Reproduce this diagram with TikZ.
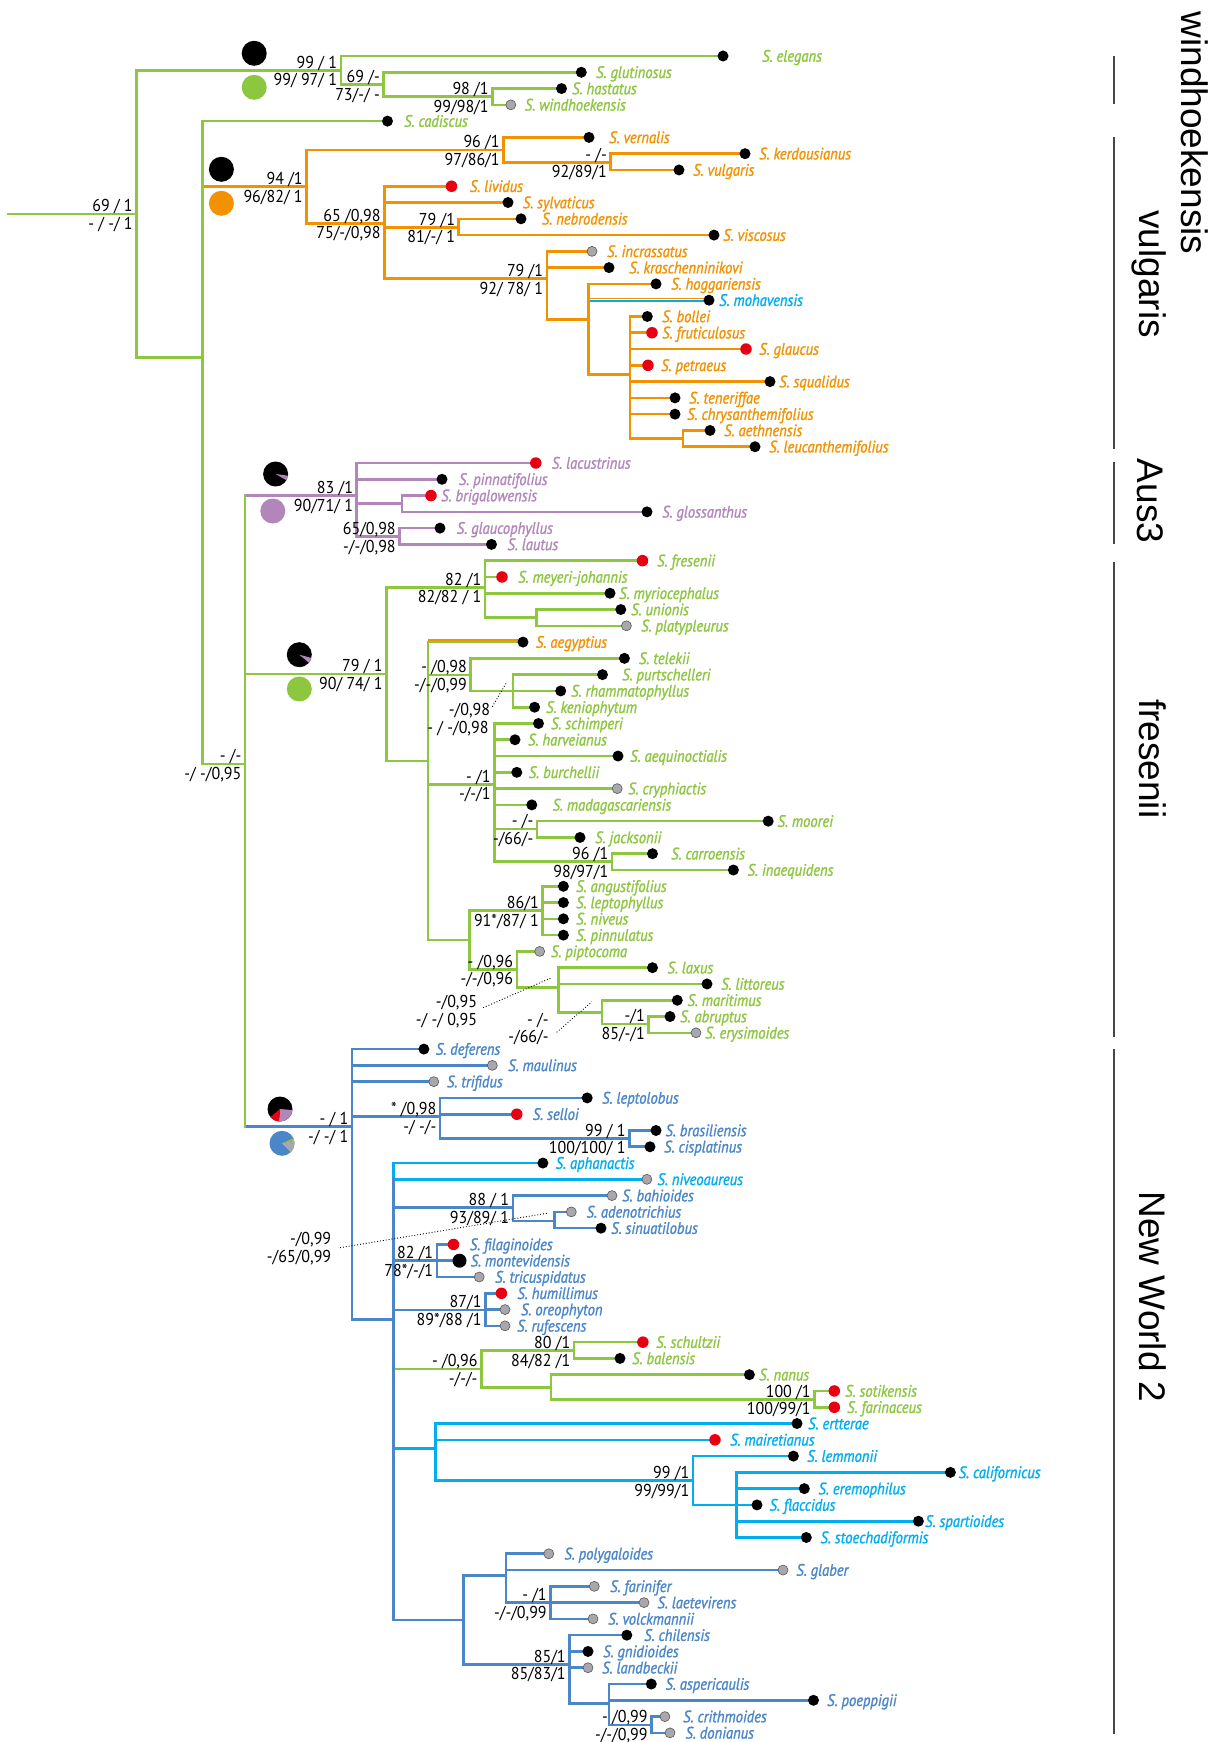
\documentclass[tikz,border=0pt]{standalone}
\usepackage{fontspec}
\setmainfont{PT Sans}
\newfontfamily\taxonfont[FakeStretch=0.88,FakeBold=1.3]{PT Sans}
\newfontfamily\valuefont[FakeStretch=0.93]{PT Sans}
\newfontfamily\cladefont{Liberation Sans}
\definecolor{brgreen}{RGB}{141,198,63}
\definecolor{brorange}{RGB}{243,146,0}
\definecolor{brpurple}{RGB}{178,134,186}
\definecolor{brblue}{RGB}{74,134,200}
\definecolor{brcyan}{RGB}{0,174,239}
\definecolor{dotred}{RGB}{230,0,18}
\definecolor{dotgrey}{RGB}{168,168,172}
\definecolor{barcol}{RGB}{70,70,70}

% a clade: named coordinate plus its incoming horizontal branch
\newcommand\clade[5]{%
  \coordinate (#1) at (#3,#4);
  \draw[branch,#5] (#2 |- #1) -- (#1);}
% vertical line of a node, from its first to its last child
\newcommand\vspan[4]{\draw[branch,#4] (#1 |- #2) -- (#1 |- #3);}
% a terminal: id, parent, row, dot x, dot style, label x, colour, epithet
\newcommand\tip[8]{%
  \coordinate (#1) at (#4,{56+16.28*(#3)});
  \draw[branch,#7] (#2 |- #1) -- (#1);
  \node[#5] (#1-dot) at (#1) {};
  \node[taxon,text=#7] (#1-name) at (#6,{56+16.28*(#3)}) {S. #8};}
% support values above and below a branch
\newcommand\supp[3]{%
  \node[supval] (#1-bs) at ([xshift=-3.5pt,yshift=8.3pt]#1) {#2};
  \node[supval] (#1-pp) at ([xshift=-3.5pt,yshift=-9.5pt]#1) {#3};}
% pie slice: colour, centre, start angle, end angle
\newcommand\slice[4]{\fill[#1] (#2) -- ++(#3:12.5) arc[start angle=#3,end angle=#4,radius=12.5] -- cycle;}

\tikzset{
  branch/.style={line width=2.6pt,line cap=rect},
  bk/.style={circle,fill=black,inner sep=0pt,minimum size=11pt},
  bigbk/.style={circle,fill=black,inner sep=0pt,minimum size=14pt},
  gr/.style={circle,fill=dotgrey,draw=black!65,line width=0.6pt,inner sep=0pt,minimum size=10pt},
  rd/.style={circle,fill=dotred,inner sep=0pt,minimum size=11.5pt},
  taxon/.style={anchor=west,inner sep=0pt,font=\taxonfont\itshape\fontsize{16.6}{17}\selectfont,text height=11.4pt,text depth=0pt},
  supval/.style={anchor=east,inner sep=0pt,font=\valuefont\fontsize{17.2}{17}\selectfont,text height=12.2pt,text depth=0pt},
  cladename/.style={font=\cladefont\fontsize{37}{37}\selectfont,rotate=-90,inner sep=0pt,anchor=base},
  bracket/.style={draw=barcol,line width=1.4pt},
  leader/.style={dotted,line width=0.9pt}
}

\begin{document}
\begin{tikzpicture}[x=1pt,y=-1pt]
\useasboundingbox (0,0) rectangle (1228,1742);
\fill[white] (0,0) rectangle (1228,1742);

% ---------- backbone ----------
\coordinate (stem) at (8.7,214);
\coordinate (root) at (136.4,214);
\draw[branch,brgreen] (stem) -- (root);
\clade{A}{root}{340.8}{70.3}{brgreen}
\clade{A2}{A}{383.5}{84.7}{brgreen}
\clade{A3}{A2}{492.3}{96.7}{brgreen}
\clade{B}{root}{202.4}{357.7}{brgreen}
% vulgaris group
\clade{V}{B}{306.4}{186.7}{brorange}
\clade{V1}{V}{503.3}{150}{brorange}
\clade{V1b}{V1}{610.5}{162.3}{brorange}
\clade{V2}{V}{384.3}{223.3}{brorange}
\clade{V2a}{V2}{458.7}{227.3}{brorange}
\clade{V3}{V2}{546.8}{278.7}{brorange}
\clade{V4}{V3}{588.4}{319.3}{brorange}
\clade{V5}{V4}{630}{374.3}{brorange}
\clade{V6}{V5}{683}{438.3}{brorange}
% rest of the tree
\clade{C}{B}{245}{764}{brgreen}
\clade{Aus}{C}{356.7}{495.7}{brpurple}
\clade{Ausa}{Aus}{402}{503.3}{brpurple}
\clade{Ausb}{Aus}{399.4}{536.7}{brpurple}
\clade{F}{C}{386.3}{674}{brgreen}
\clade{F1}{F}{485}{587.3}{brgreen}
\clade{F1a}{F1}{536.6}{617.7}{brgreen}
\clade{F2}{F}{428}{761}{brgreen}
\clade{F2a}{F2}{470.5}{675}{brgreen}
\clade{F2a2}{F2a}{512.8}{691}{brgreen}
\clade{F2b}{F2}{494.3}{784.3}{brgreen}
\clade{F2b1}{F2b}{537}{829}{brgreen}
\clade{F2b2}{F2b}{612}{861.7}{brgreen}
\clade{F2c}{F2}{469.7}{940}{brgreen}
\clade{F2c1}{F2c}{542.5}{910.7}{brgreen}
\clade{F2c2}{F2c}{516.8}{969.3}{brgreen}
\clade{F2c3}{F2c2}{558.7}{987.3}{brgreen}
\clade{F2c4}{F2c3}{602}{1012.7}{brgreen}
\clade{F2c5}{F2c4}{648.5}{1024}{brgreen}
\clade{N}{C}{352}{1126.7}{brblue}
\clade{N1}{N}{440}{1116.7}{brblue}
\clade{N1a}{N1}{629.2}{1138.3}{brblue}
\clade{N2}{N}{393.4}{1319.3}{brblue}
\clade{N2a}{N2}{512.8}{1207.7}{brblue}
\clade{N2a1}{N2a}{554.7}{1221}{brblue}
\clade{N2b}{N2}{436.9}{1260.7}{brblue}
\clade{N2c}{N2}{485.2}{1310}{brblue}
\clade{N2d}{N2}{481.2}{1369}{brgreen}
\clade{N2d1}{N2d}{574}{1350.7}{brgreen}
\clade{N2d2}{N2d}{550.8}{1387.3}{brgreen}
\clade{N2d3}{N2d2}{814.3}{1399.3}{brgreen}
\clade{N2e}{N2}{435.7}{1448.3}{brcyan}
\clade{N2e1}{N2e}{693}{1480.7}{brcyan}
\clade{N2e2}{N2e1}{736.2}{1505}{brcyan}
\clade{N2f}{N2}{463.4}{1620}{brblue}
\clade{N2f1}{N2f}{506.1}{1575.7}{brblue}
\clade{N2f2}{N2f1}{550.4}{1602.7}{brblue}
\clade{N2f3}{N2f}{569.4}{1664.3}{brblue}
\clade{N2f4}{N2f3}{609}{1703.3}{brblue}
\clade{N2f5}{N2f4}{651.3}{1725}{brblue}

% ---------- terminals ----------
\tip{elegans}{A}{0}{723}{bk}{762}{brgreen}{elegans}
\tip{glutinosus}{A2}{1}{581.3}{bk}{596}{brgreen}{glutinosus}
\tip{hastatus}{A3}{2}{561.5}{bk}{572}{brgreen}{hastatus}
\tip{windhoekensis}{A3}{3}{510.8}{gr}{524.7}{brgreen}{windhoekensis}
\tip{cadiscus}{B}{4}{387.5}{bk}{404}{brgreen}{cadiscus}
\tip{vernalis}{V1}{5}{589}{bk}{609}{brorange}{vernalis}
\tip{kerdousianus}{V1b}{6}{745}{bk}{759}{brorange}{kerdousianus}
\tip{vulgaris}{V1b}{7}{679}{bk}{693}{brorange}{vulgaris}
\tip{lividus}{V2}{8}{451.5}{rd}{469.7}{brorange}{lividus}
\tip{sylvaticus}{V2}{9}{508}{bk}{522.7}{brorange}{sylvaticus}
\tip{nebrodensis}{V2a}{10}{521}{bk}{541.7}{brorange}{nebrodensis}
\tip{viscosus}{V2a}{11}{714}{bk}{723}{brorange}{viscosus}
\tip{incrassatus}{V3}{12}{592}{gr}{607}{brorange}{incrassatus}
\tip{kraschenninikovi}{V3}{13}{609}{bk}{629}{brorange}{kraschenninikovi}
\tip{hoggariensis}{V4}{14}{656}{bk}{671}{brorange}{hoggariensis}
% mohavensis: blue branch with an orange edge
\coordinate (mohavensis) at (709,{56+16.28*15});
\draw[line width=2.3pt,brcyan] ([yshift=-0.6pt]V4 |- mohavensis) -- ([yshift=-0.6pt]mohavensis);
\draw[line width=1.6pt,brorange] ([yshift=1.7pt]V4 |- mohavensis) -- ([yshift=1.7pt]mohavensis);
\node[bk] (mohavensis-dot) at (mohavensis) {};
\node[taxon,text=brcyan] (mohavensis-name) at (719,{56+16.28*15}) {S. mohavensis};
\tip{bollei}{V5}{16}{647.3}{bk}{662}{brorange}{bollei}
\tip{fruticulosus}{V5}{17}{652}{rd}{662}{brorange}{fruticulosus}
\tip{glaucus}{V5}{18}{746}{rd}{759}{brorange}{glaucus}
\tip{petraeus}{V5}{19}{648}{rd}{661}{brorange}{petraeus}
\tip{squalidus}{V5}{20}{770}{bk}{779}{brorange}{squalidus}
\tip{teneriffae}{V5}{21}{675}{bk}{689}{brorange}{teneriffae}
\tip{chrysanthemifolius}{V5}{22}{675}{bk}{687}{brorange}{chrysanthemifolius}
\tip{aethnensis}{V6}{23}{710}{bk}{724}{brorange}{aethnensis}
\tip{leucanthemifolius}{V6}{24}{755}{bk}{769}{brorange}{leucanthemifolius}
% Aus3
\tip{lacustrinus}{Aus}{25}{535.8}{rd}{551.6}{brpurple}{lacustrinus}
\tip{pinnatifolius}{Aus}{26}{442}{bk}{458.7}{brpurple}{pinnatifolius}
\tip{brigalowensis}{Ausa}{27}{431}{rd}{441}{brpurple}{brigalowensis}
\tip{glossanthus}{Ausa}{28}{647}{bk}{662}{brpurple}{glossanthus}
\tip{glaucophyllus}{Ausb}{29}{440}{bk}{456.7}{brpurple}{glaucophyllus}
\tip{lautus}{Ausb}{30}{491.5}{bk}{507.3}{brpurple}{lautus}
% fresenii
\tip{fresenii}{F1}{31}{642.5}{rd}{657}{brgreen}{fresenii}
\tip{meyeri}{F1}{32}{502}{rd}{518}{brgreen}{meyeri-johannis}
\tip{myriocephalus}{F1}{33}{610}{bk}{619}{brgreen}{myriocephalus}
\tip{unionis}{F1a}{34}{620.8}{bk}{631}{brgreen}{unionis}
\tip{platypleurus}{F1a}{35}{626.4}{gr}{641}{brgreen}{platypleurus}
% aegyptius: green branch with an orange edge
\coordinate (aegyptius) at (523,{56+16.28*36});
\draw[branch,brgreen] (F2 |- aegyptius) -- (aegyptius);
\draw[line width=1.6pt,brorange] ([yshift=1.9pt]F2 |- aegyptius) -- ([yshift=1.9pt]aegyptius);
\node[bk] (aegyptius-dot) at (aegyptius) {};
\node[taxon,text=brorange] (aegyptius-name) at (535.8,{56+16.28*36}) {S. aegyptius};
\tip{telekii}{F2a}{37}{624.4}{bk}{638.8}{brgreen}{telekii}
\tip{purtschelleri}{F2a2}{38}{602.5}{bk}{622}{brgreen}{purtschelleri}
\tip{rhammatophyllus}{F2a2}{39}{560.7}{bk}{571}{brgreen}{rhammatophyllus}
\tip{keniophytum}{F2a2}{40}{534.6}{bk}{546}{brgreen}{keniophytum}
\tip{schimperi}{F2b}{41}{538.5}{bk}{550.8}{brgreen}{schimperi}
\tip{harveianus}{F2b}{42}{515}{bk}{527.9}{brgreen}{harveianus}
\tip{aequinoctialis}{F2b}{43}{618}{bk}{630}{brgreen}{aequinoctialis}
\tip{burchellii}{F2b}{44}{516.8}{bk}{528.6}{brgreen}{burchellii}
\tip{cryphiactis}{F2b}{45}{617.2}{gr}{628}{brgreen}{cryphiactis}
\tip{madagascariensis}{F2b}{46}{531.8}{bk}{552.4}{brgreen}{madagascariensis}
\tip{moorei}{F2b1}{47}{768.2}{bk}{777.4}{brgreen}{moorei}
\tip{jacksonii}{F2b1}{48}{580}{bk}{595}{brgreen}{jacksonii}
\tip{carroensis}{F2b2}{49}{652.5}{bk}{671}{brgreen}{carroensis}
\tip{inaequidens}{F2b2}{50}{733.4}{bk}{747.4}{brgreen}{inaequidens}
\tip{angustifolius}{F2c1}{51}{563.4}{bk}{576}{brgreen}{angustifolius}
\tip{leptophyllus}{F2c1}{52}{563.4}{bk}{576}{brgreen}{leptophyllus}
\tip{niveus}{F2c1}{53}{563.4}{bk}{576}{brgreen}{niveus}
\tip{pinnulatus}{F2c1}{54}{563.4}{bk}{576}{brgreen}{pinnulatus}
\tip{piptocoma}{F2c2}{55}{539.7}{gr}{550.8}{brgreen}{piptocoma}
\tip{laxus}{F2c3}{56}{652.5}{bk}{667.3}{brgreen}{laxus}
\tip{littoreus}{F2c3}{57}{707}{bk}{721}{brgreen}{littoreus}
\tip{maritimus}{F2c4}{58}{677.3}{bk}{687.3}{brgreen}{maritimus}
\tip{abruptus}{F2c5}{59}{670}{bk}{680}{brgreen}{abruptus}
\tip{erysimoides}{F2c5}{60}{696}{gr}{705}{brgreen}{erysimoides}
% New World 2
\tip{deferens}{N}{61}{423.9}{bk}{435.7}{brblue}{deferens}
\tip{maulinus}{N}{62}{492.3}{gr}{508}{brblue}{maulinus}
\tip{trifidus}{N}{63}{433.8}{gr}{446.8}{brblue}{trifidus}
\tip{leptolobus}{N1}{64}{587.2}{bk}{602}{brblue}{leptolobus}
\tip{selloi}{N1}{65}{516.8}{rd}{532.6}{brblue}{selloi}
\tip{brasiliensis}{N1a}{66}{656}{bk}{665.3}{brblue}{brasiliensis}
\tip{cisplatinus}{N1a}{67}{650}{bk}{664}{brblue}{cisplatinus}
\tip{aphanactis}{N2}{68}{542.9}{bk}{555.5}{brcyan}{aphanactis}
\tip{niveoaureus}{N2}{69}{646.9}{gr}{657.3}{brcyan}{niveoaureus}
\tip{bahioides}{N2a}{70}{612}{gr}{622}{brblue}{bahioides}
\tip{adenotrichius}{N2a1}{71}{571.3}{gr}{586.4}{brblue}{adenotrichius}
\tip{sinuatilobus}{N2a1}{72}{601}{bk}{611}{brblue}{sinuatilobus}
\tip{filaginoides}{N2b}{73}{453.5}{rd}{469.7}{brblue}{filaginoides}
\tip{montevidensis}{N2b}{74}{459.5}{bigbk}{470.5}{brblue}{montevidensis}
\tip{tricuspidatus}{N2b}{75}{479.2}{gr}{495}{brblue}{tricuspidatus}
\tip{humillimus}{N2c}{76}{501.4}{rd}{517.2}{brblue}{humillimus}
\tip{oreophyton}{N2c}{77}{505}{gr}{520.8}{brblue}{oreophyton}
\tip{rufescens}{N2c}{78}{505}{gr}{517}{brblue}{rufescens}
\tip{schultzii}{N2d1}{79}{642.9}{rd}{656}{brgreen}{schultzii}
\tip{balensis}{N2d1}{80}{620}{bk}{632}{brgreen}{balensis}
\tip{nanus}{N2d2}{81}{749.4}{bk}{759}{brgreen}{nanus}
\tip{sotikensis}{N2d3}{82}{834.3}{rd}{845}{brgreen}{sotikensis}
\tip{farinaceus}{N2d3}{83}{834.3}{rd}{847}{brgreen}{farinaceus}
\tip{ertterae}{N2e}{84}{797}{bk}{808}{brcyan}{ertterae}
\tip{mairetianus}{N2e}{85}{715}{rd}{730}{brcyan}{mairetianus}
\tip{lemmonii}{N2e1}{86}{793.4}{bk}{807}{brcyan}{lemmonii}
\tip{californicus}{N2e2}{87}{950.4}{bk}{958.5}{brcyan}{californicus}
\tip{eremophilus}{N2e2}{88}{804.3}{bk}{818.3}{brcyan}{eremophilus}
\tip{flaccidus}{N2e2}{89}{757}{bk}{769.4}{brcyan}{flaccidus}
\tip{spartioides}{N2e2}{90}{918.4}{bk}{925}{brcyan}{spartioides}
\tip{stoechadiformis}{N2e2}{91}{806.3}{bk}{820.3}{brcyan}{stoechadiformis}
\tip{polygaloides}{N2f1}{92}{548.8}{gr}{564.2}{brblue}{polygaloides}
\tip{glaber}{N2f1}{93}{783}{gr}{796.2}{brblue}{glaber}
\tip{farinifer}{N2f2}{94}{594.3}{gr}{610}{brblue}{farinifer}
\tip{laetevirens}{N2f2}{95}{644}{gr}{657.3}{brblue}{laetevirens}
\tip{volckmannii}{N2f2}{96}{593}{gr}{608}{brblue}{volckmannii}
\tip{chilensis}{N2f3}{97}{626.8}{bk}{644}{brblue}{chilensis}
\tip{gnidioides}{N2f3}{98}{588}{bk}{603}{brblue}{gnidioides}
\tip{landbeckii}{N2f3}{99}{588}{gr}{602}{brblue}{landbeckii}
\tip{aspericaulis}{N2f4}{100}{651.3}{bk}{665.3}{brblue}{aspericaulis}
\tip{poeppigii}{N2f4}{101}{813.5}{bk}{827}{brblue}{poeppigii}
\tip{crithmoides}{N2f5}{102}{664.9}{gr}{683}{brblue}{crithmoides}
\tip{donianus}{N2f5}{103}{670}{gr}{685.3}{brblue}{donianus}

% ---------- vertical lines of the nodes ----------
\vspan{root}{A}{B}{brgreen}
\vspan{A}{elegans}{A2}{brgreen}
\vspan{A2}{glutinosus}{A3}{brgreen}
\vspan{A3}{hastatus}{windhoekensis}{brgreen}
\vspan{B}{cadiscus}{C}{brgreen}
\vspan{V}{V1}{V2}{brorange}
\vspan{V1}{vernalis}{V1b}{brorange}
\vspan{V1b}{kerdousianus}{vulgaris}{brorange}
\vspan{V2}{lividus}{V3}{brorange}
\vspan{V2a}{nebrodensis}{viscosus}{brorange}
\vspan{V3}{incrassatus}{V4}{brorange}
\vspan{V4}{hoggariensis}{V5}{brorange}
\vspan{V5}{bollei}{V6}{brorange}
\vspan{V6}{aethnensis}{leucanthemifolius}{brorange}
\vspan{C}{Aus}{N}{brgreen}
\vspan{Aus}{lacustrinus}{Ausb}{brpurple}
\vspan{Ausa}{brigalowensis}{glossanthus}{brpurple}
\vspan{Ausb}{glaucophyllus}{lautus}{brpurple}
\vspan{F}{F1}{F2}{brgreen}
\vspan{F1}{fresenii}{F1a}{brgreen}
\vspan{F1a}{unionis}{platypleurus}{brgreen}
\vspan{F2}{aegyptius}{F2c}{brgreen}
\vspan{F2a}{telekii}{F2a2}{brgreen}
\vspan{F2a2}{purtschelleri}{keniophytum}{brgreen}
\vspan{F2b}{schimperi}{F2b2}{brgreen}
\vspan{F2b1}{moorei}{jacksonii}{brgreen}
\vspan{F2b2}{carroensis}{inaequidens}{brgreen}
\vspan{F2c}{F2c1}{F2c2}{brgreen}
\vspan{F2c1}{angustifolius}{pinnulatus}{brgreen}
\vspan{F2c2}{piptocoma}{F2c3}{brgreen}
\vspan{F2c3}{laxus}{F2c4}{brgreen}
\vspan{F2c4}{maritimus}{F2c5}{brgreen}
\vspan{F2c5}{abruptus}{erysimoides}{brgreen}
\vspan{N}{deferens}{N2}{brblue}
\vspan{N1}{leptolobus}{N1a}{brblue}
\vspan{N1a}{brasiliensis}{cisplatinus}{brblue}
\vspan{N2}{aphanactis}{niveoaureus}{brcyan}
\vspan{N2}{niveoaureus}{N2f}{brblue}
\vspan{N2a}{bahioides}{N2a1}{brblue}
\vspan{N2a1}{adenotrichius}{sinuatilobus}{brblue}
\vspan{N2b}{filaginoides}{tricuspidatus}{brblue}
\vspan{N2c}{humillimus}{rufescens}{brblue}
\vspan{N2d}{N2d1}{N2d2}{brgreen}
\vspan{N2d1}{schultzii}{balensis}{brgreen}
\vspan{N2d2}{nanus}{N2d3}{brgreen}
\vspan{N2d3}{sotikensis}{farinaceus}{brgreen}
\vspan{N2e}{ertterae}{N2e1}{brcyan}
\vspan{N2e1}{lemmonii}{N2e2}{brcyan}
\vspan{N2e2}{californicus}{stoechadiformis}{brcyan}
\vspan{N2f}{N2f1}{N2f3}{brblue}
\vspan{N2f1}{polygaloides}{N2f2}{brblue}
\vspan{N2f2}{farinifer}{volckmannii}{brblue}
\vspan{N2f3}{chilensis}{N2f4}{brblue}
\vspan{N2f4}{aspericaulis}{N2f5}{brblue}
\vspan{N2f5}{crithmoides}{donianus}{brblue}

% ---------- support values ----------
\supp{root}{69 / 1}{- / -/ 1}
\supp{A}{99 / 1}{99/ 97/ 1}
\supp{A2}{69 /-}{73/-/ -}
\supp{A3}{98 /1}{99/98/1}
\supp{V}{94 /1}{96/82/ 1}
\supp{V1}{96 /1}{97/86/1}
\supp{V1b}{- /-}{92/89/1}
\supp{V2}{65 /0,98}{75/-/0,98}
\supp{V2a}{79 /1}{81/-/ 1}
\supp{V3}{79 /1}{92/ 78/ 1}
\supp{C}{- /-}{-/ -/0,95}
\supp{Aus}{83 /1}{90/71/ 1}
\supp{Ausb}{65/0,98}{-/-/0,98}
\supp{F}{79 / 1}{90/ 74/ 1}
\supp{F1}{82 /1}{82/82 / 1}
\supp{F2a}{- /0,98}{-/-/0,99}
\supp{F2b}{- /1}{-/-/1}
\supp{F2b1}{- /-}{-/66/-}
\supp{F2b2}{96 /1}{98/97/1}
\supp{F2c1}{86/1}{91*/87/ 1}
\supp{F2c2}{- /0,96}{-/-/0,96}
\supp{F2c5}{-/1}{85/-/1}
\supp{N}{- / 1}{-/ -/ 1}
\supp{N1}{* /0,98}{-/ -/-}
\supp{N1a}{99 / 1}{100/100/ 1}
\supp{N2a}{88 / 1}{93/89/ 1}
\supp{N2b}{82 /1}{78*/-/1}
\supp{N2c}{87/1}{89*/88 /1}
\supp{N2d}{- /0,96}{-/-/-}
\supp{N2d1}{80 /1}{84/82 /1}
\supp{N2d3}{100 /1}{100/99/1}
\supp{N2e1}{99 /1}{99/99/1}
\supp{N2f2}{- /1}{-/-/0,99}
\supp{N2f3}{85/1}{85/83/1}
\supp{N2f5}{- /0,99}{-/-/0,99}
% values set apart and tied to their node by a dotted leader
\node[supval] (F2a2-bs) at (490.3,709) {-/0,98};
\node[supval] (F2a2-pp) at (488.7,727.7) {- / -/0,98};
\node[supval] (F2c3-bs) at (477.2,1001.7) {-/0,95};
\node[supval] (F2c3-pp) at (477.2,1019) {-/ -/ 0,95};
\node[supval] (F2c4-bs) at (548.8,1019) {- /-};
\node[supval] (F2c4-pp) at (548.8,1036.3) {-/66/-};
\node[supval] (N2a1-bs) at (331.4,1238.3) {-/0,99};
\node[supval] (N2a1-pp) at (331.4,1256.3) {-/65/0,99};
\coordinate (ldA1) at (492.3,706.7); \coordinate (ldA2) at (506.1,683.3);
\coordinate (ldB1) at (483.2,1007.7); \coordinate (ldB2) at (551.6,977.7);
\coordinate (ldC1) at (556.7,1032.3); \coordinate (ldC2) at (591.9,1001.7);
\coordinate (ldD1) at (340,1247.7); \coordinate (ldD2) at (546.8,1213.3);
\draw[leader] (ldA1) -- (ldA2);
\draw[leader] (ldB1) -- (ldB2);
\draw[leader] (ldC1) -- (ldC2);
\draw[leader] (ldD1) -- (ldD2);

% ---------- ancestral-state pies ----------
\coordinate (pieW1) at (254.2,53.3);  \coordinate (pieW2) at (254.2,87.3);
\fill[black] (pieW1) circle[radius=12.5];
\fill[brgreen] (pieW2) circle[radius=12.5];
\coordinate (pieV1) at (221.4,169.3); \coordinate (pieV2) at (221.4,203.3);
\fill[black] (pieV1) circle[radius=12.5];
\fill[brorange] (pieV2) circle[radius=12.5];
\coordinate (pieA1) at (275.6,474);   \coordinate (pieA2) at (272.8,511);
\fill[black] (pieA1) circle[radius=12.5];
\slice{brpurple}{pieA1}{8}{30}
\fill[brpurple] (pieA2) circle[radius=12.5];
\coordinate (pieF1) at (299.3,654.7); \coordinate (pieF2) at (299.3,689);
\fill[black] (pieF1) circle[radius=12.5];
\slice{brpurple}{pieF1}{15}{40}
\fill[brgreen] (pieF2) circle[radius=12.5];
\coordinate (pieN1) at (280,1109);    \coordinate (pieN2) at (282,1143.3);
\fill[black] (pieN1) circle[radius=12.5];
\slice{brpurple}{pieN1}{5}{95}
\slice{dotred}{pieN1}{95}{140}
\fill[brblue] (pieN2) circle[radius=12.5];
\slice{dotgrey}{pieN2}{-12}{45}
\slice{brgreen}{pieN2}{-24}{-12}

% ---------- clade brackets and names ----------
\draw[bracket] (1114,56) -- (1114,104);
\draw[bracket] (1114,137) -- (1114,449);
\draw[bracket] (1114,462) -- (1114,544);
\draw[bracket] (1114,562) -- (1114,1037);
\draw[bracket] (1114,1049) -- (1114,1734);
\node[cladename] (name-wind) at (1181,133) {windhoekensis};
\node[cladename] (name-vulg) at (1139,274) {vulgaris};
\node[cladename] (name-aus) at (1137,501) {Aus3};
\node[cladename] (name-fres) at (1139,758.7) {fresenii};
\node[cladename] (name-nw) at (1139,1297) {New World 2};
\end{tikzpicture}
\end{document}
